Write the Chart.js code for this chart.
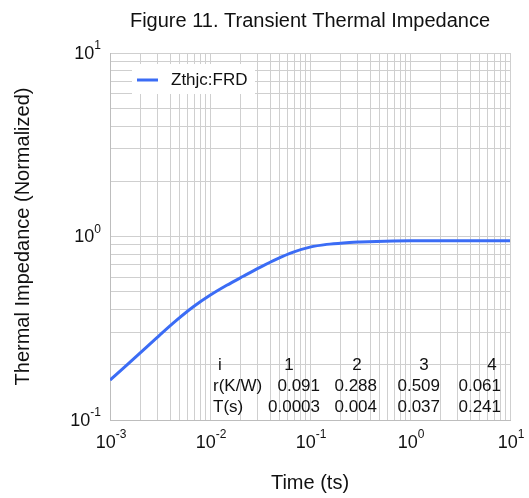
<!DOCTYPE html>
<html>
<head>
<meta charset="utf-8">
<script src="https://cdn.jsdelivr.net/npm/chart.js@4"></script>
<style>
  html, body { margin: 0; padding: 0; background: #fff; }
  #wrap { width: 529px; height: 498px; }
</style>
</head>
<body>
<div id="wrap"><canvas id="chart" width="529" height="498"></canvas></div>
<script>
// curve
const timeVals = [0.001, 0.00147, 0.00215, 0.00316, 0.00464, 0.00681,
  0.01, 0.0147, 0.0215, 0.0316, 0.0464, 0.0681,
  0.1, 0.147, 0.215, 0.316, 0.464, 0.681,
  1, 1.47, 2.15, 3.16, 4.64, 6.81, 10];
const zthVals = [0.165, 0.199, 0.240, 0.291, 0.350, 0.414,
  0.478, 0.542, 0.607, 0.679, 0.753, 0.822,
  0.875, 0.906, 0.923, 0.933, 0.940, 0.945,
  0.948, 0.949, 0.949, 0.949, 0.948, 0.948, 0.948];

// foster table printed in the plot
const tableIdx = ["1", "2", "3", "4"];
const tableR = ["0.091", "0.288", "0.509", "0.061"];
const tableT = ["0.0003", "0.004", "0.037", "0.241"];

const xMajor = [0.001, 0.01, 0.1, 1, 10];
const yMajor = [0.1, 1, 10];

const FONT = "'Liberation Sans', Arial, sans-serif";
const TEXT = "#111";
const GRID = "#cfcfcf";
const BLUE = "#3b6cf5";

const withMinors = (majors) => {
  const out = [];
  majors.forEach((m, i) => {
    out.push(m);
    if (i < majors.length - 1) {
      for (let k = 2; k <= 9; k++) out.push(m * k);
    }
  });
  return out;
};

// 10 with a raised exponent
const drawPow = (ctx, exp, x, y, align) => {
  ctx.font = "18px " + FONT;
  const base = "10";
  const bw = ctx.measureText(base).width;
  ctx.font = "12px " + FONT;
  const sup = String(exp);
  const sw = ctx.measureText(sup).width;
  let left = align === "right" ? x - bw - sw : x - (bw + sw) / 2;
  ctx.textAlign = "left";
  ctx.textBaseline = "middle";
  ctx.font = "18px " + FONT;
  ctx.fillText(base, left, y);
  ctx.font = "12px " + FONT;
  ctx.fillText(sup, left + bw, y - 8);
};

const extras = {
  id: "extras",
  afterDraw(chart) {
    const { ctx, chartArea, scales } = chart;
    ctx.save();
    ctx.fillStyle = TEXT;

    yMajor.forEach((v) => {
      drawPow(ctx, Math.round(Math.log10(v)), chartArea.left - 9, scales.y.getPixelForValue(v) + 1, "right");
    });
    xMajor.forEach((v) => {
      drawPow(ctx, Math.round(Math.log10(v)), scales.x.getPixelForValue(v) + 1, chartArea.bottom + 23, "center");
    });

    // legend inside the plot
    const lx = chartArea.left + 19, ly = chartArea.top + 27;
    ctx.fillStyle = "#fff";
    ctx.fillRect(lx + 3, ly - 16, 123, 30);
    ctx.strokeStyle = BLUE;
    ctx.lineWidth = 3;
    ctx.beginPath();
    ctx.moveTo(lx + 8, ly);
    ctx.lineTo(lx + 29, ly);
    ctx.stroke();
    ctx.fillStyle = TEXT;
    ctx.font = "17px " + FONT;
    ctx.textAlign = "left";
    ctx.textBaseline = "middle";
    ctx.fillText(chart.data.datasets[0].label, lx + 42, ly);

    // table
    ctx.font = "17px " + FONT;
    const rows = [chartArea.top + 312, chartArea.top + 333, chartArea.top + 354];
    ctx.textAlign = "left";
    ctx.fillText("i", chartArea.left + 108, rows[0]);
    ctx.fillText("r(K/W)", chartArea.left + 103, rows[1]);
    ctx.fillText("T(s)", chartArea.left + 103, rows[2]);
    const headX = [179, 247, 314, 382];
    const valX = [210, 267, 330, 391];
    ctx.textAlign = "center";
    tableIdx.forEach((s, i) => ctx.fillText(s, chartArea.left + headX[i], rows[0]));
    ctx.textAlign = "right";
    tableR.forEach((s, i) => ctx.fillText(s, chartArea.left + valX[i], rows[1]));
    tableT.forEach((s, i) => ctx.fillText(s, chartArea.left + valX[i], rows[2]));
    ctx.restore();
  }
};

new Chart(document.getElementById("chart"), {
  type: "line",
  data: {
    datasets: [{
      label: "Zthjc:FRD",
      data: timeVals.map((t, i) => ({ x: t, y: zthVals[i] })),
      borderColor: BLUE,
      borderWidth: 3,
      pointRadius: 0,
      cubicInterpolationMode: "monotone",
      fill: false
    }]
  },
  options: {
    responsive: false,
    animation: false,
    layout: { padding: { left: 0, right: 19, top: 0, bottom: 0 } },
    plugins: {
      legend: { display: false },
      tooltip: { enabled: false },
      title: {
        display: true,
        fullSize: false,
        text: "Figure 11. Transient Thermal Impedance",
        color: TEXT,
        font: { family: FONT, size: 20, weight: "normal" },
        padding: { top: 9, bottom: 20 }
      }
    },
    scales: {
      x: {
        type: "logarithmic",
        min: 0.001,
        max: 10,
        afterBuildTicks: (s) => { s.ticks = withMinors(xMajor).map((v) => ({ value: v })); },
        afterFit: (s) => { s.height = 78; },
        ticks: { display: false },
        grid: { color: GRID, drawTicks: false },
        border: { color: "#bdbdbd" },
        title: {
          display: true,
          text: "Time (ts)",
          color: TEXT,
          font: { family: FONT, size: 20 },
          padding: { bottom: 3 }
        }
      },
      y: {
        type: "logarithmic",
        min: 0.1,
        max: 10,
        afterBuildTicks: (s) => { s.ticks = withMinors(yMajor).map((v) => ({ value: v })); },
        afterFit: (s) => { s.width = 110; },
        ticks: { display: false },
        grid: { color: GRID, drawTicks: false },
        border: { color: "#bdbdbd" },
        title: {
          display: true,
          text: "Thermal Impedance (Normalized)",
          color: TEXT,
          font: { family: FONT, size: 20 },
          padding: { top: 11 }
        }
      }
    }
  },
  plugins: [extras]
});
</script>
</body>
</html>
